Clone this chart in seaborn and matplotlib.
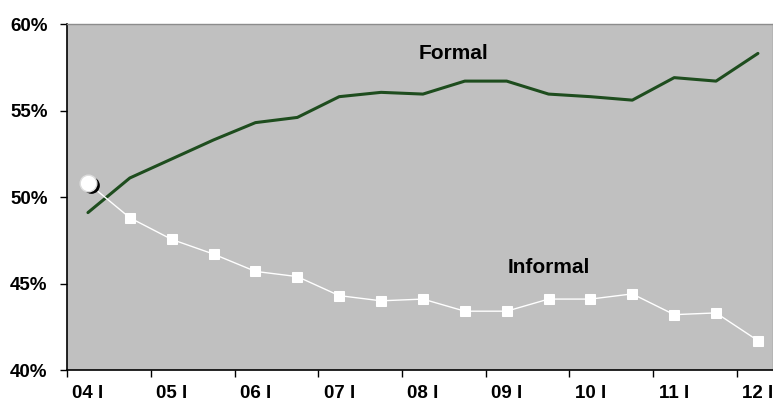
import pandas as pd
import matplotlib
matplotlib.use("Agg")
import matplotlib.pyplot as plt
import matplotlib.transforms as mtransforms
import seaborn as sns

# dados semestrais 2004 I .. 2012 I
periodos = ["04 I", "04 II", "05 I", "05 II", "06 I", "06 II", "07 I", "07 II", "08 I",
            "08 II", "09 I", "09 II", "10 I", "10 II", "11 I", "11 II", "12 I"]
formal = [49.1, 51.1, 52.2, 53.3, 54.3, 54.6, 55.8, 56.05, 55.95,
          56.7, 56.7, 55.95, 55.8, 55.6, 56.9, 56.7, 58.3]
informal = [50.8, 48.8, 47.55, 46.7, 45.7, 45.4, 44.3, 44.0, 44.1,
            43.4, 43.4, 44.1, 44.1, 44.4, 43.2, 43.3, 41.7]
yticks = [40, 45, 50, 55, 60]

df = pd.DataFrame({"i": range(len(periodos)), "Formal": formal, "Informal": informal})

sns.set_theme(style="white")
plt.rcParams["font.family"] = ["Liberation Sans", "DejaVu Sans"]
plt.rcParams["text.color"] = "black"
plt.rcParams["xtick.color"] = "black"
plt.rcParams["ytick.color"] = "black"

fig = plt.figure(figsize=(7.73, 4.05), dpi=100)
ax = fig.add_axes([0.0867, 0.0864, 0.9133, 0.8543])
ax.set_facecolor("#C0C0C0")

sns.lineplot(data=df, x="i", y="Formal", color="#1E4D1E", linewidth=2.2, ax=ax)
sns.lineplot(data=df.iloc[1:], x="i", y="Informal", color="white", linewidth=1.0,
             marker="s", markersize=7, markeredgecolor="white", ax=ax)
# segmento do primeiro ponto
sns.lineplot(data=df.iloc[:2], x="i", y="Informal", color="white", linewidth=1.0, ax=ax)

# primeiro ponto: círculo branco com sombra preta
shadow = mtransforms.offset_copy(ax.transData, fig=fig, x=3, y=-2, units="dots")
ax.plot(df["i"].iloc[0], df["Informal"].iloc[0], "o", color="black", markersize=11,
        transform=shadow, zorder=4)
ax.plot(df["i"].iloc[0], df["Informal"].iloc[0], "o", color="white", markersize=12,
        markeredgecolor="#DDDDDD", zorder=5)

ax.text(8.73, 58.3, "Formal", fontsize=15, fontweight="bold", ha="center", va="center", color="black")
ax.text(11.0, 45.9, "Informal", fontsize=15, fontweight="bold", ha="center", va="center", color="black")

ax.set_xlim(-0.5, 16.36)
ax.set_ylim(40, 60)
ax.set_yticks(yticks)
ax.set_yticklabels([f"{v}%" for v in yticks], fontsize=13.5, fontweight="bold")
ax.set_xticks(list(range(0, len(periodos), 2)))
ax.set_xticklabels(periodos[::2], fontsize=13.5, fontweight="bold")
ax.set_xticks([k + 1.5 for k in range(-2, len(periodos) - 1, 2)], minor=True)
ax.tick_params(axis="x", which="major", length=0, pad=11)
ax.tick_params(axis="x", which="minor", length=5, width=1, color="black", direction="out", bottom=True)
ax.tick_params(axis="y", length=5, width=1, color="black", direction="out", left=True, pad=9)
ax.set_xlabel("")
ax.set_ylabel("")

for s in ["left", "bottom"]:
    ax.spines[s].set_color("black")
    ax.spines[s].set_linewidth(1.2)
for s in ["top", "right"]:
    ax.spines[s].set_color("#8C8C8C")
    ax.spines[s].set_linewidth(1.0)

plt.savefig("out.png", dpi=100)
